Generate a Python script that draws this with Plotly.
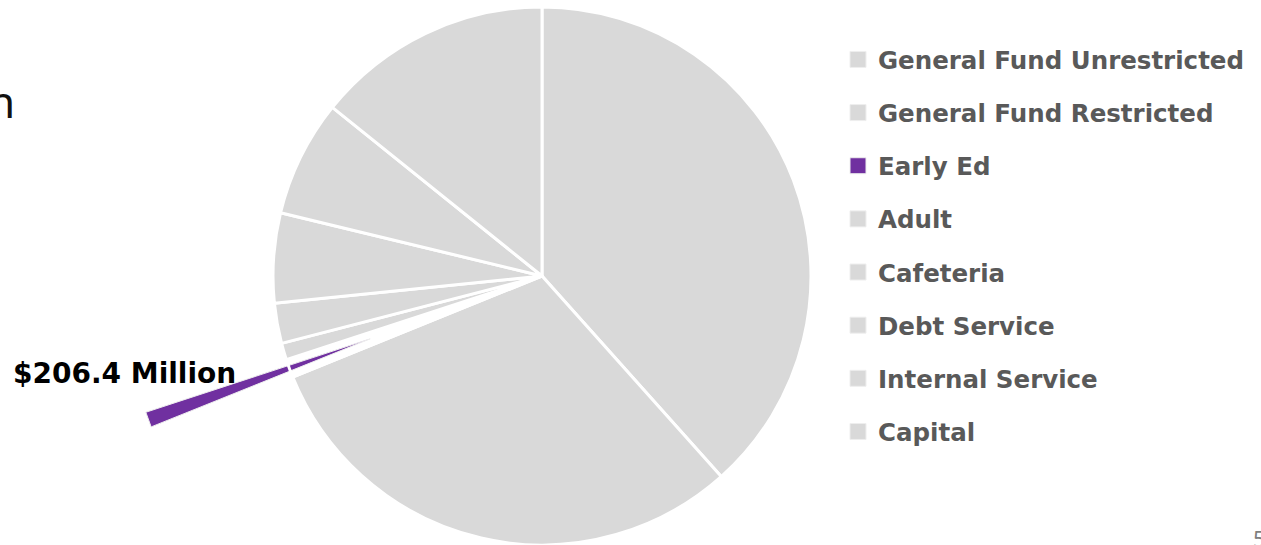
import numpy as np
import plotly.graph_objects as go

# Budget by fund, in millions of dollars
categories = [
    "General Fund Unrestricted",
    "General Fund Restricted",
    "Early Ed",
    "Adult",
    "Cafeteria",
    "Debt Service",
    "Internal Service",
    "Capital",
]
amounts_musd = [7203, 5717, 206.4, 188, 454, 1011, 1313, 2668]
highlight = "Early Ed"
highlight_label = "$206.4 Million"

# Canvas and pie geometry (pixels)
W, H = 1261, 545
CX, CY, R = 542, 276, 269
PULL_OFFSET = 183      # how far the highlighted wedge is pulled out
PULL_RADIUS = 236      # radius of the pulled wedge

GRAY = "#d9d9d9"
PURPLE = "#7030a0"
TEXT_GRAY = "#595959"
FONT = "DejaVu Sans"

vals = np.array(amounts_musd, dtype=float)
frac = vals / vals.sum()
ends = np.cumsum(frac) * 360.0
starts = ends - frac * 360.0
k = categories.index(highlight)

# Pulled-out wedge, built from the highlighted share (angles clockwise from 12 o'clock)
a0, a1 = np.radians(starts[k]), np.radians(ends[k])
mid = (a0 + a1) / 2
apx = CX + PULL_OFFSET * np.sin(mid)
apy = CY - PULL_OFFSET * np.cos(mid)
arc = np.linspace(a0, a1, 24)
wedge_x = np.concatenate([[apx], apx + PULL_RADIUS * np.sin(arc), [apx]])
wedge_y = np.concatenate([[apy], apy - PULL_RADIUS * np.cos(arc), [apy]])

fig = go.Figure()

# Pulled wedge on pixel-space axes
fig.add_trace(go.Scatter(
    x=wedge_x, y=wedge_y, mode="lines", fill="toself",
    fillcolor=PURPLE, line=dict(color="#eeeeee", width=1),
    showlegend=False, hoverinfo="skip",
))

# Main pie; the highlighted slice is left empty where it was pulled from
slice_colors = ["rgba(0,0,0,0)" if c == highlight else GRAY for c in categories]
fig.add_trace(go.Pie(
    labels=categories, values=amounts_musd, sort=False,
    direction="clockwise", rotation=0,
    marker=dict(colors=slice_colors, line=dict(color="white", width=3)),
    textinfo="none", showlegend=False,
    domain=dict(x=[(CX - R) / W, (CX + R) / W],
                y=[(H - CY - R) / H, (H - CY + R) / H]),
))

# Legend entries
for c in categories:
    fig.add_trace(go.Scatter(
        x=[None], y=[None], mode="markers", name=c, legendgroup=c,
        marker=dict(symbol="square", size=19,
                    color=PURPLE if c == highlight else GRAY,
                    line=dict(color="#eeeeee", width=1)),
    ))

annotations = [
    dict(text=highlight_label, x=11, y=373, xref="x", yref="y",
         xanchor="left", yanchor="middle", showarrow=False,
         font=dict(family=FONT, size=28, color="#000000", weight="bold")),
    dict(text="n", x=17, y=101, xref="x", yref="y",
         xanchor="right", yanchor="middle", showarrow=False,
         font=dict(family="Noto Sans", size=44, color="#111111")),
    dict(text="5", x=1251, y=521, xref="x", yref="y",
         xanchor="left", yanchor="top", showarrow=False,
         font=dict(family="Noto Sans", size=22, color="#7f7f7f")),
]

fig.update_layout(
    width=W, height=H,
    margin=dict(l=0, r=0, t=0, b=0),
    paper_bgcolor="white", plot_bgcolor="white",
    xaxis=dict(range=[0, W], visible=False, fixedrange=True),
    yaxis=dict(range=[H, 0], visible=False, fixedrange=True),
    legend=dict(
        x=838 / W, y=1 - 37 / H, xanchor="left", yanchor="top",
        font=dict(family=FONT, size=24.5, color=TEXT_GRAY, weight="bold"),
        tracegroupgap=18.3, bgcolor="rgba(0,0,0,0)", itemclick=False,
    ),
    annotations=annotations,
)

fig.write_html("out.html")
